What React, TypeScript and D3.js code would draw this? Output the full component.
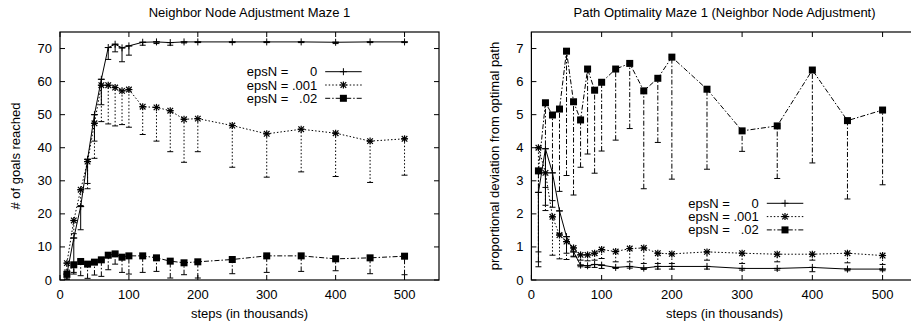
import React from "react";
import * as d3 from "d3";

const steps = [10, 20, 30, 40, 50, 60, 70, 80, 90, 100, 120, 140, 160, 180, 200, 250, 300, 350, 400, 450, 500];

const goals0 = [1.8, 12.7, 22.2, 36.5, 50, 60.7, 70.3, 71.3, 70.2, 70.8, 71.9, 72, 71.8, 72, 72, 72, 72, 72, 71.9, 72, 72];
const goals0Low = [0.2, 2.3, 15.2, 29.2, 42, 53, 66.7, 69, 66, 68, 71, 71.5, 71, 71.7, 71.8, 71.8, 71.8, 71.8, 71.5, 71.8, 71.8];
const goals001 = [5.1, 18, 27.3, 35.8, 47.4, 58.9, 58.9, 58.2, 57.2, 57.6, 52.4, 52.2, 51.2, 48.6, 48.8, 46.7, 44.2, 45.6, 44.4, 42, 42.7];
const goals001Low = [3, 14, 22.5, 27.6, 36.8, 47.9, 47.2, 46.6, 47, 46.2, 44, 42, 38.8, 35.6, 38.8, 34.1, 31.1, 32.7, 31.3, 29.5, 31.7];
const goals02 = [1.7, 4.6, 5.6, 4.8, 5.4, 6.1, 7.5, 7.9, 6.9, 7.3, 7.3, 6.7, 5.7, 5.2, 5.5, 6.2, 7.3, 7.3, 6.4, 6.7, 7.2];
const goals02Low = [0.3, 1.8, 1.3, 0.5, 1.5, 1.1, 3.1, 4.8, 2.3, 1.8, 2.3, 2.6, 0.6, 1.6, 0.6, 1.9, 2.3, 2.6, 2.8, 1.9, 1.6];

const dev0 = [2.65, 3.97, 3.24, 2.09, 1.31, 0.85, 0.45, 0.43, 0.47, 0.45, 0.38, 0.41, 0.36, 0.41, 0.41, 0.41, 0.35, 0.35, 0.38, 0.33, 0.33];
const dev0Low = [0.4, 2.26, 2.2, 1.4, 0.81, 0.7, 0.4, 0.38, 0.38, 0.35, 0.35, 0.36, 0.32, 0.33, 0.33, 0.33, 0.3, 0.3, 0.25, 0.28, 0.28];
const dev001 = [4.0, 3.24, 1.91, 1.36, 1.16, 0.97, 0.76, 0.76, 0.81, 0.92, 0.86, 0.95, 0.97, 0.81, 0.79, 0.85, 0.81, 0.78, 0.78, 0.81, 0.74];
const dev001Low = [0.85, 2.1, 0.75, 0.64, 0.62, 0.72, 0.6, 0.58, 0.6, 0.65, 0.55, 0.55, 0.5, 0.5, 0.5, 0.6, 0.5, 0.55, 0.6, 0.52, 0.47];
const dev02 = [3.3, 5.36, 4.99, 5.17, 6.92, 5.39, 4.84, 6.38, 5.74, 5.98, 6.38, 6.55, 5.72, 6.1, 6.74, 5.77, 4.51, 4.66, 6.35, 4.82, 5.14];
const dev02Low = [0.55, 2.8, 2.4, 2.68, 3.16, 2.57, 3.41, 3.81, 3.23, 3.9, 4.23, 4.58, 2.76, 4.16, 3.05, 3.35, 3.89, 3.07, 3.54, 2.45, 2.88];

const seriesLabels = ["0", ".001", ".02"];
const xTicks = [0, 100, 200, 300, 400, 500];
const leftYTicks = [0, 10, 20, 30, 40, 50, 60, 70];
const rightYTicks = [0, 1, 2, 3, 4, 5, 6, 7];

const FONT = "'Liberation Sans', Arial, Helvetica, sans-serif";
const dashes = [null, "1.5,2", "5,2,1.5,2"];
const markers = ["plus", "star", "square"];

function Marker({ type, x, y }: { type: string; x: number; y: number }) {
  const s = 3.5;
  if (type === "plus") {
    return (
      <g stroke="#000" strokeWidth={1}>
        <line x1={x - s} x2={x + s} y1={y} y2={y} />
        <line x1={x} x2={x} y1={y - s} y2={y + s} />
      </g>
    );
  }
  if (type === "star") {
    const t = 2.8;
    return (
      <g stroke="#000" strokeWidth={1.2}>
        <line x1={x - s} x2={x + s} y1={y} y2={y} />
        <line x1={x} x2={x} y1={y - s} y2={y + s} />
        <line x1={x - t} x2={x + t} y1={y - t} y2={y + t} />
        <line x1={x - t} x2={x + t} y1={y + t} y2={y - t} />
      </g>
    );
  }
  return <rect x={x - 3.5} y={y - 3.5} width={7} height={7} fill="#000" />;
}

type ChartProps = {
  left: number;
  right: number;
  yMax: number;
  yTicks: number[];
  title: string;
  yLabel: string;
  yLabelX: number;
  values: number[][];
  lows: number[][];
  legendX: number;
  legendY: number;
};

function Chart(p: ChartProps) {
  const top = 32;
  const bottom = 280;
  const x = d3.scaleLinear().domain([0, 550]).range([p.left, p.right]);
  const y = d3.scaleLinear().domain([0, p.yMax]).range([bottom, top]);
  const cx = (p.left + p.right) / 2;
  const line = d3
    .line<number>()
    .x((_, i) => x(steps[i]))
    .y((v) => y(v));
  const tl = 5;
  return (
    <g fontFamily={FONT} fontSize={13} fill="#000">
      <text x={cx} y={12} dy="0.35em" textAnchor="middle">{p.title}</text>
      <text
        transform={`translate(${p.yLabelX},${(top + bottom) / 2}) rotate(-90)`}
        textAnchor="middle"
        dy="0.35em"
      >
        {p.yLabel}
      </text>
      <text x={cx} y={313} dy="0.35em" textAnchor="middle">steps (in thousands)</text>
      {xTicks.map((t) => (
        <g key={"x" + t}>
          <line x1={x(t)} x2={x(t)} y1={bottom} y2={bottom - tl} stroke="#000" />
          <line x1={x(t)} x2={x(t)} y1={top} y2={top + tl} stroke="#000" />
          <text x={x(t)} y={294} dy="0.35em" textAnchor="middle">{t}</text>
        </g>
      ))}
      {p.yTicks.map((t) => (
        <g key={"y" + t}>
          <line x1={p.left} x2={p.left + tl} y1={y(t)} y2={y(t)} stroke="#000" />
          <line x1={p.right} x2={p.right - tl} y1={y(t)} y2={y(t)} stroke="#000" />
          <text x={p.left - 8} y={y(t)} dy="0.35em" textAnchor="end">{t}</text>
        </g>
      ))}
      <rect x={p.left} y={top} width={p.right - p.left} height={bottom - top} fill="none" stroke="#000" strokeWidth={1.2} />
      {p.values.map((vals, si) => (
        <g key={"s" + si}>
          {vals.map((v, i) => (
            <g key={i} stroke="#000" strokeWidth={1}>
              <line
                x1={x(steps[i])}
                x2={x(steps[i])}
                y1={y(p.lows[si][i])}
                y2={y(v)}
                strokeDasharray={dashes[si] ?? undefined}
              />
              <line x1={x(steps[i]) - 3} x2={x(steps[i]) + 3} y1={y(p.lows[si][i])} y2={y(p.lows[si][i])} />
              <line x1={x(steps[i]) - 3} x2={x(steps[i]) + 3} y1={y(v)} y2={y(v)} />
            </g>
          ))}
          <path d={line(vals) ?? ""} fill="none" stroke="#000" strokeWidth={1} strokeDasharray={dashes[si] ?? undefined} />
          {vals.map((v, i) => (
            <Marker key={"m" + i} type={markers[si]} x={x(steps[i])} y={y(v)} />
          ))}
        </g>
      ))}
      {seriesLabels.map((lab, si) => {
        const ry = p.legendY + si * 13.3;
        return (
          <g key={"l" + si}>
            <text x={p.legendX} y={ry} dy="0.35em" textAnchor="start">epsN =</text>
            <text x={p.legendX + 70.5} y={ry} dy="0.35em" textAnchor="end">{lab}</text>
            <line x1={p.legendX + 78.5} x2={p.legendX + 115} y1={ry} y2={ry} stroke="#000" strokeDasharray={dashes[si] ?? undefined} />
            <Marker type={markers[si]} x={p.legendX + 96.7} y={ry} />
          </g>
        );
      })}
    </g>
  );
}

export default function App() {
  return (
    <svg width={911} height={325} style={{ position: "absolute", left: 0, top: 0, background: "#fff" }}>
      <rect width={911} height={325} fill="#fff" />
      <Chart
        left={60}
        right={439}
        yMax={75}
        yTicks={leftYTicks}
        title="Neighbor Node Adjustment Maze 1"
        yLabel="# of goals reached"
        yLabelX={15}
        values={[goals0, goals001, goals02]}
        lows={[goals0Low, goals001Low, goals02Low]}
        legendX={246.7}
        legendY={71.7}
      />
      <Chart
        left={531.4}
        right={917.7}
        yMax={7.5}
        yTicks={rightYTicks}
        title="Path Optimality Maze 1 (Neighbor Node Adjustment)"
        yLabel="proportional deviation from optimal path"
        yLabelX={494.3}
        values={[dev0, dev001, dev02]}
        lows={[dev0Low, dev001Low, dev02Low]}
        legendX={688.3}
        legendY={203.3}
      />
    </svg>
  );
}
